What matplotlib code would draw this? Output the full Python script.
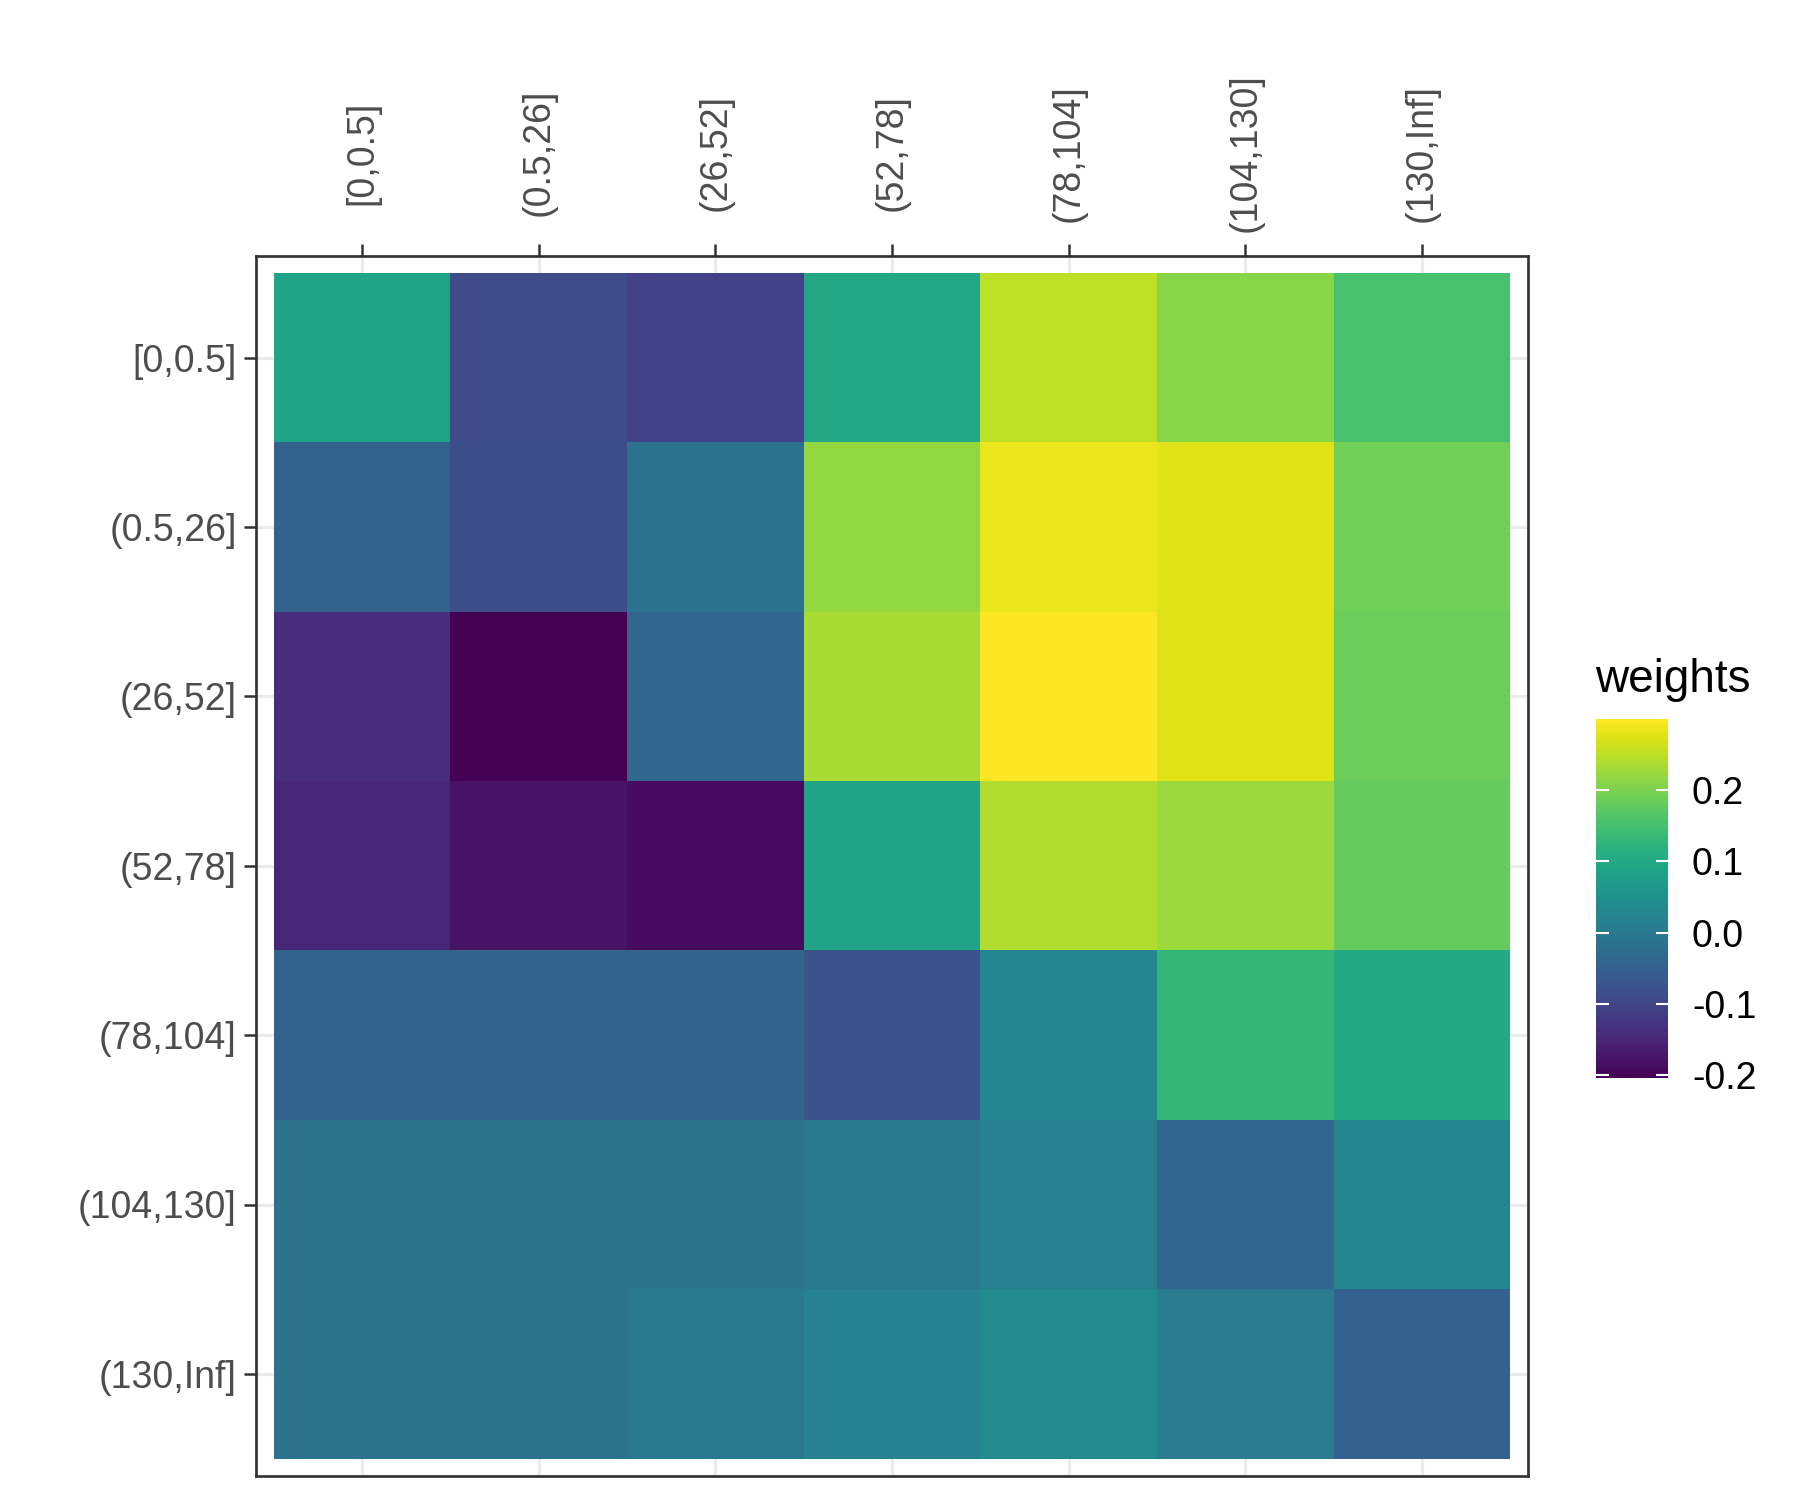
import numpy as np
import matplotlib
matplotlib.use("Agg")
import matplotlib.pyplot as plt

plt.rcParams['font.family'] = ['Liberation Sans', 'DejaVu Sans']

## Data

bins = ['[0,0.5]', '(0.5,26]', '(26,52]', '(52,78]',
        '(78,104]', '(104,130]', '(130,Inf]']

# rows follow bins top to bottom, columns follow bins left to right
row_0_05 = [0.088, -0.088, -0.108, 0.098, 0.250, 0.210, 0.154]
row_05_26 = [-0.048, -0.086, -0.015, 0.219, 0.285, 0.275, 0.190]
row_26_52 = [-0.140, -0.204, -0.038, 0.234, 0.300, 0.275, 0.187]
row_52_78 = [-0.149, -0.179, -0.190, 0.088, 0.240, 0.224, 0.180]
row_78_104 = [-0.048, -0.048, -0.048, -0.075, 0.028, 0.130, 0.103]
row_104_130 = [-0.013, -0.012, -0.013, -0.003, 0.013, -0.038, 0.025]
row_130_inf = [-0.013, -0.012, 0.000, 0.018, 0.035, 0.005, -0.050]

weights = np.array([row_0_05, row_05_26, row_26_52, row_52_78,
                    row_78_104, row_104_130, row_130_inf])

cbar_ticks = [-0.2, -0.1, 0.0, 0.1, 0.2]

## Plot

fig = plt.figure(figsize=(12, 10), dpi=150)
ax = fig.add_axes([256 / 1800, 24.5 / 1500, 1272 / 1800, 1219.5 / 1500])

n = len(bins)
edges = np.arange(n + 1)
mesh = ax.pcolormesh(edges, edges, weights, cmap='viridis',
                     vmin=weights.min(), vmax=weights.max(), zorder=2)

ax.set_xlim(-0.1, n + 0.1)
ax.set_ylim(n + 0.1, -0.1)

centers = np.arange(n) + 0.5
ax.set_xticks(centers)
ax.set_yticks(centers)
ax.set_xticklabels(bins, rotation=90, ha='center', va='center')
ax.set_yticklabels(bins)
ax.xaxis.tick_top()

ax.grid(True, color='#EBEBEB', linewidth=1.5, zorder=0)
ax.set_axisbelow(True)
for sp in ax.spines.values():
    sp.set_color('#333333')
    sp.set_linewidth(1.3)

ax.tick_params(axis='x', length=5.8, width=1.2, color='#333333',
               labelcolor='#4D4D4D', labelsize=18, pad=43.8)
ax.tick_params(axis='y', length=5.8, width=1.2, color='#333333',
               labelcolor='#4D4D4D', labelsize=18, pad=3.5)

# colour bar legend
cax = fig.add_axes([1596 / 1800, 422 / 1500, 72 / 1800, 359 / 1500])
cbar = fig.colorbar(mesh, cax=cax, ticks=cbar_ticks)
cbar.outline.set_visible(False)
cax.set_yticklabels(['-0.2', '-0.1', '0.0', '0.1', '0.2'])
cax.tick_params(axis='y', direction='in', color='white', length=6,
                width=1.0, left=True, right=True, labelleft=False,
                labelright=True, labelsize=18, pad=11.5, labelcolor='black')

fig.text(1595 / 1800, 1 - 692 / 1500, 'weights', fontsize=22,
         ha='left', va='baseline', color='black')

fig.savefig('out.png', dpi=150)
